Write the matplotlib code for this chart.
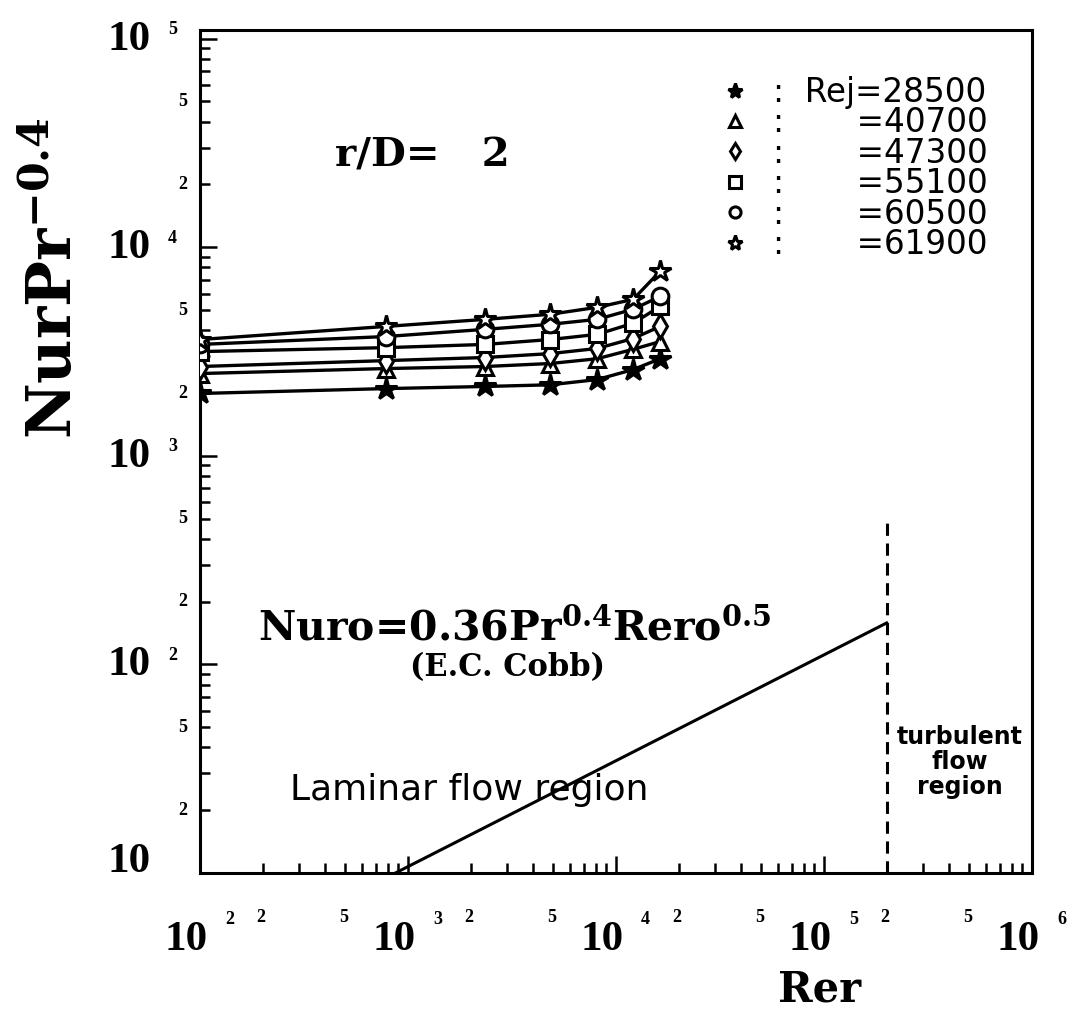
import numpy as np
import matplotlib
matplotlib.use("Agg")
import matplotlib.pyplot as plt
import matplotlib.transforms as mtransforms
from matplotlib.lines import Line2D

plt.rcParams['mathtext.fontset'] = 'dejavuserif'
plt.rcParams['mathtext.default'] = 'regular'

# ---------------- data ----------------
rer = [100, 780, 2350, 4820, 8110, 12080, 16300]
rej_labels = ["28500", "40700", "47300", "55100", "60500", "61900"]
nu_28500 = [1990, 2100, 2150, 2190, 2320, 2590, 2920]
nu_40700 = [2480, 2620, 2680, 2770, 2920, 3240, 3530]
nu_47300 = [2680, 2860, 2960, 3090, 3270, 3650, 4170]
nu_55100 = [3160, 3300, 3420, 3610, 3820, 4320, 5200]
nu_60500 = [3420, 3730, 4040, 4270, 4510, 5040, 5810]
nu_61900 = [3610, 4170, 4510, 4770, 5150, 5620, 7670]
series = [nu_28500, nu_40700, nu_47300, nu_55100, nu_60500, nu_61900]
markers = ['*', '^', 'd', 's', 'o', '*']
filled = [True, False, False, False, False, False]

cobb_rer = [870, 2.0e5]
cobb_nu = [10, 158]
transition_rer = [2.0e5, 2.0e5]
transition_nu = [10, 500]

x_major = [1e2, 1e3, 1e4, 1e5, 1e6]
x_major_exp = ["2", "3", "4", "5", "6"]
y_major = [1e1, 1e2, 1e3, 1e4, 1e5]
y_major_exp = ["", "2", "3", "4", "5"]
minor_mult = [2, 5]

# ---------------- figure ----------------
W, H = 1072, 1025
fig = plt.figure(figsize=(W / 100, H / 100), dpi=100)
L, R, B, T = 200, 1032, 873, 30
ax = fig.add_axes([L / W, 1 - B / H, (R - L) / W, (B - T) / H])
ax.set_xscale('log')
ax.set_yscale('log')
ax.set_xlim(1e2, 1e6)
ax.set_ylim(10, 1.1e5)

for s in ax.spines.values():
    s.set_linewidth(2.2)

ax.tick_params(which='both', direction='in', top=False, right=False,
               labelbottom=False, labelleft=False, width=1.8)
ax.tick_params(which='major', length=12)
ax.tick_params(which='minor', length=7)

# data
for vals, m, f in zip(series, markers, filled):
    ms = 16 if m == '*' else 12
    ax.plot(rer, vals, color='black', lw=2.4, marker=m, ms=ms,
            mfc='black' if f else 'white', mec='black', mew=2.2, zorder=3)

# Cobb correlation and transition
ax.plot(cobb_rer, cobb_nu, color='black', lw=2.2)
ax.plot(transition_rer, transition_nu, color='black', lw=2.2,
        ls=(0, (4, 2.5)))

serif = 'DejaVu Serif'
tick_serif = 'Liberation Serif'
sans = 'DejaVu Sans'

# ---------------- tick labels ----------------
xt = mtransforms.blended_transform_factory(ax.transData, ax.transAxes)
off = lambda dx, dy: mtransforms.ScaledTranslation(dx / 100, dy / 100, fig.dpi_scale_trans)
for v, e in zip(x_major, x_major_exp):
    ax.text(v, 0, "10", transform=xt + off(8, -67), ha='right', va='center',
            fontsize=31, family=tick_serif, fontweight='bold', clip_on=False)
    ax.text(v, 0, e, transform=xt + off(25, -46), ha='left', va='center',
            fontsize=13, family=tick_serif, fontweight='bold', clip_on=False)
for d in x_major[:-1]:
    for mm in minor_mult:
        ax.text(d * mm, 0, str(mm), transform=xt + off(-2, -44), ha='center',
                va='center', fontsize=13, family=tick_serif, fontweight='bold',
                clip_on=False)

yt = mtransforms.blended_transform_factory(ax.transAxes, ax.transData)
for v, e in zip(y_major, y_major_exp):
    dy = 11 if e == "" else -1
    ax.text(0, v, "10", transform=yt + off(-49, dy), ha='right', va='center',
            fontsize=31, family=tick_serif, fontweight='bold', clip_on=False)
    if e:
        ax.text(0, v, e, transform=yt + off(-32, 9), ha='left', va='center',
                fontsize=13, family=tick_serif, fontweight='bold', clip_on=False)
for d in y_major[:-1]:
    for mm in minor_mult:
        ax.text(0, d * mm, str(mm), transform=yt + off(-17, 0), ha='center',
                va='center', fontsize=13, family=tick_serif, fontweight='bold',
                clip_on=False)

# axis labels
fig.text(820 / W, 1 - 990 / H, "Rer", ha='center', va='center', fontsize=30,
         family=serif, fontweight='bold')
fig.text(55 / W, 1 - 278 / H, r"NurPr$^{-0.4}$", ha='center', va='center',
         rotation=90, fontsize=44, family=serif, fontweight='bold')

# annotations
ax.text((335 - L) / (R - L), (B - 155) / (B - T), "r/D=   2", transform=ax.transAxes,
        ha='left', va='center', fontsize=29, family=serif, fontweight='bold')
ax.text((258 - L) / (R - L), (B - 630) / (B - T), r"Nuro=0.36Pr$^{0.4}$Rero$^{0.5}$",
        transform=ax.transAxes, ha='left', va='center', fontsize=29.5,
        family=serif, fontweight='bold')
ax.text((410 - L) / (R - L), (B - 668) / (B - T), "(E.C. Cobb)",
        transform=ax.transAxes, ha='left', va='center', fontsize=22,
        family=serif, fontweight='bold')
ax.text((290 - L) / (R - L), (B - 790) / (B - T), "Laminar flow region",
        transform=ax.transAxes, ha='left', va='center', fontsize=26,
        family=sans)
ax.text((960 - L) / (R - L), (B - 762) / (B - T), "turbulent\nflow\nregion",
        transform=ax.transAxes, ha='center', va='center', fontsize=17,
        family=sans, fontweight='bold', linespacing=1.05)

# legend
handles = []
labels = []
for i, (m, f, lab) in enumerate(zip(markers, filled, rej_labels)):
    ms = 11 if m == '*' else 8
    handles.append(Line2D([], [], ls='none', marker=m, ms=ms,
                          mfc='black' if f else 'white', mec='black', mew=2.2))
    if i == 0:
        labels.append(":  Rej=" + lab)
    else:
        labels.append(":       =" + lab)
leg = ax.legend(handles, labels, loc='upper left',
                bbox_to_anchor=((706 - L) / (R - L), (B - 63) / (B - T)),
                frameon=False, handlelength=0.95, handletextpad=0.7,
                labelspacing=-0.08, borderaxespad=0,
                prop={'family': sans, 'size': 23.5})

fig.savefig("out.png", dpi=100)
